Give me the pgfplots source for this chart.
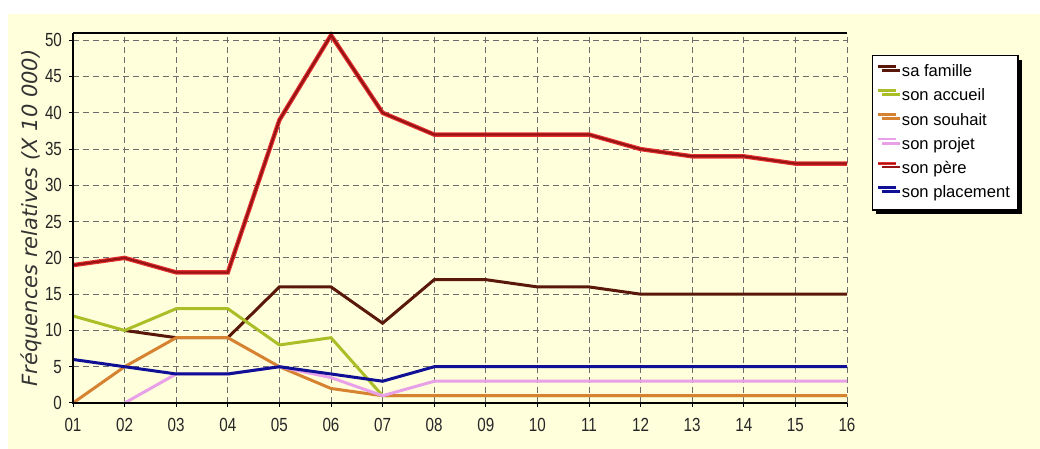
\documentclass[border=0pt]{standalone}
\usepackage{fontspec}
\setmainfont{Liberation Sans}
\newfontfamily\lblfont{DejaVu Sans}
\usepackage{graphicx}
\usepackage{pgfplots}
\pgfplotsset{compat=1.18}
\usetikzlibrary{shadows}
\definecolor{bg}{RGB}{255,255,220}
\definecolor{cfam}{RGB}{90,24,10}
\definecolor{cacc}{RGB}{170,190,40}
\definecolor{csou}{RGB}{214,130,48}
\definecolor{cpro}{RGB}{232,160,232}
\definecolor{cpere}{RGB}{232,48,48}
\definecolor{cperecore}{RGB}{150,20,20}
\definecolor{cpla}{RGB}{16,16,150}
\newcommand{\tk}[1]{\scalebox{0.8}[1]{#1}}
\pgfplotstableread{
x y
2 10
3 9
4 9
5 16
6 16
7 11
8 17
9 17
10 16
11 16
12 15
13 15
14 15
15 15
16 15
}\famille
\pgfplotstableread{
x y
1 12
2 10
3 13
4 13
5 8
6 9
7 1
8 1
9 1
10 1
11 1
12 1
13 1
14 1
15 1
16 1
}\accueil
\pgfplotstableread{
x y
1 0
2 5
3 9
4 9
5 5
6 2
7 1
8 1
9 1
10 1
11 1
12 1
13 1
14 1
15 1
16 1
}\souhait
\pgfplotstableread{
x y
2 0
3 4
4 4
5 5
6 3.5
7 1
8 3
9 3
10 3
11 3
12 3
13 3
14 3
15 3
16 3
}\projet
\pgfplotstableread{
x y
1 19
2 20
3 18
4 18
5 39
6 50.7
7 40
8 37
9 37
10 37
11 37
12 35
13 34
14 34
15 33
16 33
}\pere
\pgfplotstableread{
x y
1 6
2 5
3 4
4 4
5 5
6 4
7 3
8 5
9 5
10 5
11 5
12 5
13 5
14 5
15 5
16 5
}\placement
\begin{document}
\begin{tikzpicture}
\path[fill=white] (0,0) rectangle (520pt,224.5pt);
\fill[bg] (4pt,0) rectangle (520pt,217.5pt);
\begin{axis}[
  at={(36.5pt,23pt)}, anchor=south west,
  scale only axis, width=387pt, height=185pt,
  xmin=1, xmax=16, ymin=0, ymax=51,
  clip=false,
  axis background/.style={fill=bg},
  axis line style={draw=none},
  xtick={1,...,16},
  xticklabels={\tk{01},\tk{02},\tk{03},\tk{04},\tk{05},\tk{06},\tk{07},\tk{08},\tk{09},\tk{10},\tk{11},\tk{12},\tk{13},\tk{14},\tk{15},\tk{16}},
  ytick={0,5,...,50},
  yticklabels={\tk{0},\tk{5},\tk{10},\tk{15},\tk{20},\tk{25},\tk{30},\tk{35},\tk{40},\tk{45},\tk{50}},
  tick label style={font=\fontsize{9.5}{10}\selectfont, text=black!85},
  xticklabel style={yshift=-2pt},
  tick align=outside, tick pos=left, major tick length=2pt,
  tick style={black, line width=0.5pt},
  grid=major,
  major grid style={gray!85!black, line width=0.5pt, dash pattern=on 3pt off 2pt},
  ylabel={Fréquences relatives (X 10 000)},
  ylabel style={font=\lblfont\itshape\fontsize{10.5}{11}\selectfont, text=black!80, at={(axis description cs:-0.054,0.5)}, anchor=center},
  legend style={at={(1.032,0.9405)}, anchor=north west, draw=black, line width=0.6pt, fill=white,
    font=\fontsize{8.3}{9}\selectfont, row sep=0.6pt, inner ysep=2.5pt, inner xsep=2pt,
    drop shadow={shadow xshift=2pt, shadow yshift=-2pt, fill=black, opacity=1}},
  legend cell align=left,
  legend image code/.code={\draw[#1, line width=1.4pt] (0pt,2.9pt) -- (9pt,2.9pt);},
]
\addplot[cfam, line width=1.5pt] table {\famille};
\addlegendentry{sa famille}
\addplot[cacc, line width=1.5pt] table {\accueil};
\addlegendentry{son accueil}
\addplot[csou, line width=1.5pt] table {\souhait};
\addlegendentry{son souhait}
\addplot[cpro, line width=1.5pt] table {\projet};
\addlegendentry{son projet}
\addplot[cpere, line width=2.2pt, forget plot] table {\pere};
\addplot[cperecore, line width=1.1pt, legend image code/.code={\draw[cpere, line width=1.8pt] (0pt,2.9pt) -- (9pt,2.9pt); \draw[cperecore, line width=0.7pt] (0pt,2.9pt) -- (9pt,2.9pt);}] table {\pere};
\addlegendentry{son père}
\addplot[cpla, line width=1.5pt] table {\placement};
\addlegendentry{son placement}
\draw[black, line width=1.1pt] (axis cs:1,51) -- (axis cs:1,0) -- (axis cs:16,0);
\draw[black, line width=0.8pt] (axis cs:1,51) -- (axis cs:16,51);
\end{axis}
\end{tikzpicture}
\end{document}
